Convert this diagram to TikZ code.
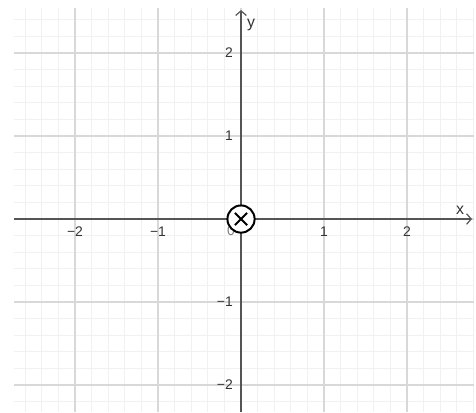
\documentclass[tikz,border=0pt]{standalone}
\usepackage{fontspec}
\setmainfont{Liberation Sans}
\usetikzlibrary{arrows.meta}
\definecolor{minorgrid}{HTML}{F1F1F1}
\definecolor{majorgrid}{HTML}{D8D8D8}
\definecolor{axiscol}{HTML}{555555}
\definecolor{labcol}{HTML}{333333}

\begin{document}
\begin{tikzpicture}[x=2.2cm,y=2.2cm,
  minorline/.style={draw=minorgrid,line width=0.7pt},
  majorline/.style={draw=majorgrid,line width=1pt},
  axisline/.style={draw=axiscol,line width=0.9pt,-{Straight Barb[length=3.5pt,width=8pt]}},
  ticklab/.style={text=labcol,inner sep=0pt,font=\fontsize{10.5}{12}\selectfont},
  axislab/.style={text=labcol,inner sep=0pt,font=\fontsize{12}{14}\selectfont}]
\useasboundingbox (-2.904,-2.325) rectangle (2.831,2.639);
% grid
\draw[minorline] (-2.735,-2.325) grid[step=0.2] (2.807,2.542);
\draw[majorline] (-2.735,-2.325) grid[step=1] (2.807,2.542);
% axes
\coordinate (xstart) at (-2.735,0);
\coordinate (xend) at (2.783,0);
\coordinate (ystart) at (0,-2.325);
\coordinate (yend) at (0,2.518);
\draw[axisline] (xstart) -- (xend);
\draw[axisline] (ystart) -- (yend);
\node[axislab] (xlab) at (2.639,0.108) {x};
\node[axislab] (ylab) at (0.12,2.335) {y};
% tick labels
\foreach \i/\t in {-2/−2,-1/−1,1/1,2/2} {
  \node[ticklab] (xtick\i) at (\i,-0.157) {\t};
  \node[ticklab,anchor=east] (ytick\i) at (-0.096,\i) {\t};
}
\node[ticklab,text=gray] (orig) at (-0.12,-0.145) {0};
% charge into the page
\node[circle,draw,fill=white,line width=1.5pt,minimum size=20.5pt,inner sep=0pt] (charge) at (0,0) {};
\draw[line width=1.5pt] (charge.center) +(-4.6pt,-4.6pt) -- +(4.6pt,4.6pt);
\draw[line width=1.5pt] (charge.center) +(-4.6pt,4.6pt) -- +(4.6pt,-4.6pt);
\end{tikzpicture}
\end{document}
